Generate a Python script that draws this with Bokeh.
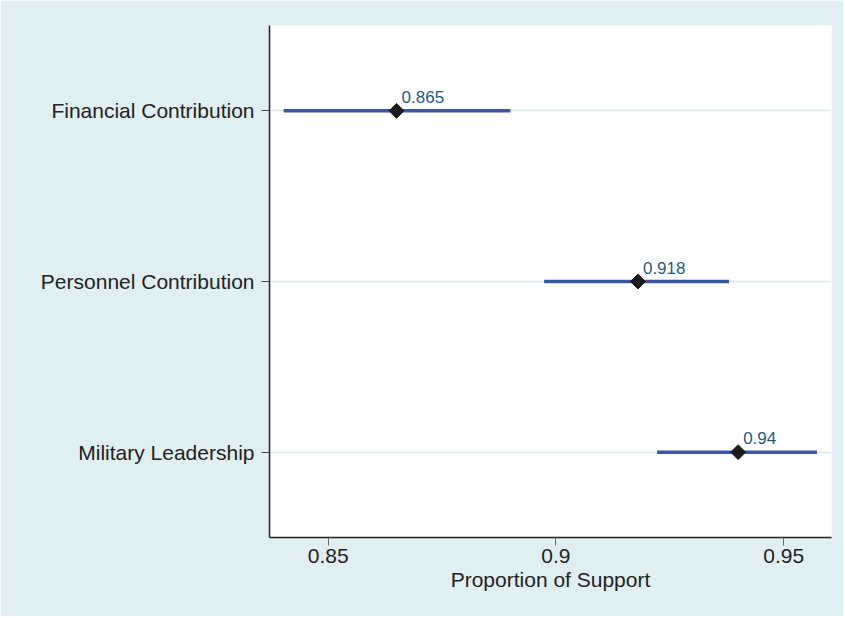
import math
from bokeh.plotting import figure
from bokeh.models import ColumnDataSource, FixedTicker, Range1d
from bokeh.core.properties import value
from bokeh.embed import file_html
from bokeh.resources import INLINE

# ---- data ----
categories = ["Military Leadership", "Personnel Contribution", "Financial Contribution"]
estimates = [0.94, 0.918, 0.865]
lower = [0.9222, 0.8974, 0.8402]
upper = [0.9573, 0.938, 0.890]
value_labels = ["0.94", "0.918", "0.865"]
x_ticks = [0.85, 0.9, 0.95]

ys = list(range(1, len(categories) + 1))
src = ColumnDataSource(dict(y=ys, est=estimates, lo=lower, hi=upper, lab=value_labels))

BG = "#dfeff2"
FONT = "Liberation Sans"

p = figure(width=843, height=616,
           x_range=Range1d(0.8371, 0.9605), y_range=Range1d(0.5, 3.5),
           output_backend="svg", toolbar_location=None,
           min_border_left=269, min_border_right=12,
           min_border_top=25, min_border_bottom=79)

p.background_fill_color = "white"
p.border_fill_color = BG
p.outline_line_color = None

p.xgrid.visible = False
p.ygrid.ticker = FixedTicker(ticks=ys)
p.ygrid.grid_line_color = "#d6eaee"
p.ygrid.grid_line_width = 1.5

p.segment(x0="lo", y0="y", x1="hi", y1="y", source=src,
          line_color="#3d55a5", line_width=3.5)
p.scatter(x="est", y="y", source=src, marker="square", size=10.5,
          angle=math.pi / 4, fill_color="#1a1a1a", line_color="#1a1a1a")
p.text(x="est", y="y", text="lab", source=src, x_offset=5, y_offset=-14,
       text_font=value(FONT), text_font_size="17px", text_color="#1e5a8a",
       text_baseline="alphabetic", text_align="left")

# x axis
xa = p.xaxis[0]
xa.ticker = FixedTicker(ticks=x_ticks)
xa.axis_label = "Proportion of Support"
xa.axis_label_text_font = FONT
xa.axis_label_text_font_size = "21px"
xa.axis_label_text_font_style = "normal"
xa.axis_label_text_color = "#222222"
xa.axis_label_standoff = 2
xa.major_label_text_font = FONT
xa.major_label_text_font_size = "21px"
xa.major_label_text_color = "#222222"
xa.major_label_standoff = 3
xa.major_tick_out = 8
xa.major_tick_in = 0
xa.minor_tick_line_color = None
xa.major_tick_line_color = "#666666"
xa.axis_line_color = "#222222"
xa.axis_line_width = 1.5

# y axis
ya = p.yaxis[0]
ya.ticker = FixedTicker(ticks=ys)
ya.major_label_overrides = {y: c for y, c in zip(ys, categories)}
ya.major_label_text_font = FONT
ya.major_label_text_font_size = "21px"
ya.major_label_text_color = "#222222"
ya.major_label_standoff = 7
ya.major_tick_out = 8
ya.major_tick_in = 0
ya.minor_tick_line_color = None
ya.major_tick_line_color = "#444444"
ya.axis_line_color = "#222222"
ya.axis_line_width = 1.5

open("out.html", "w").write(file_html(p, INLINE))
